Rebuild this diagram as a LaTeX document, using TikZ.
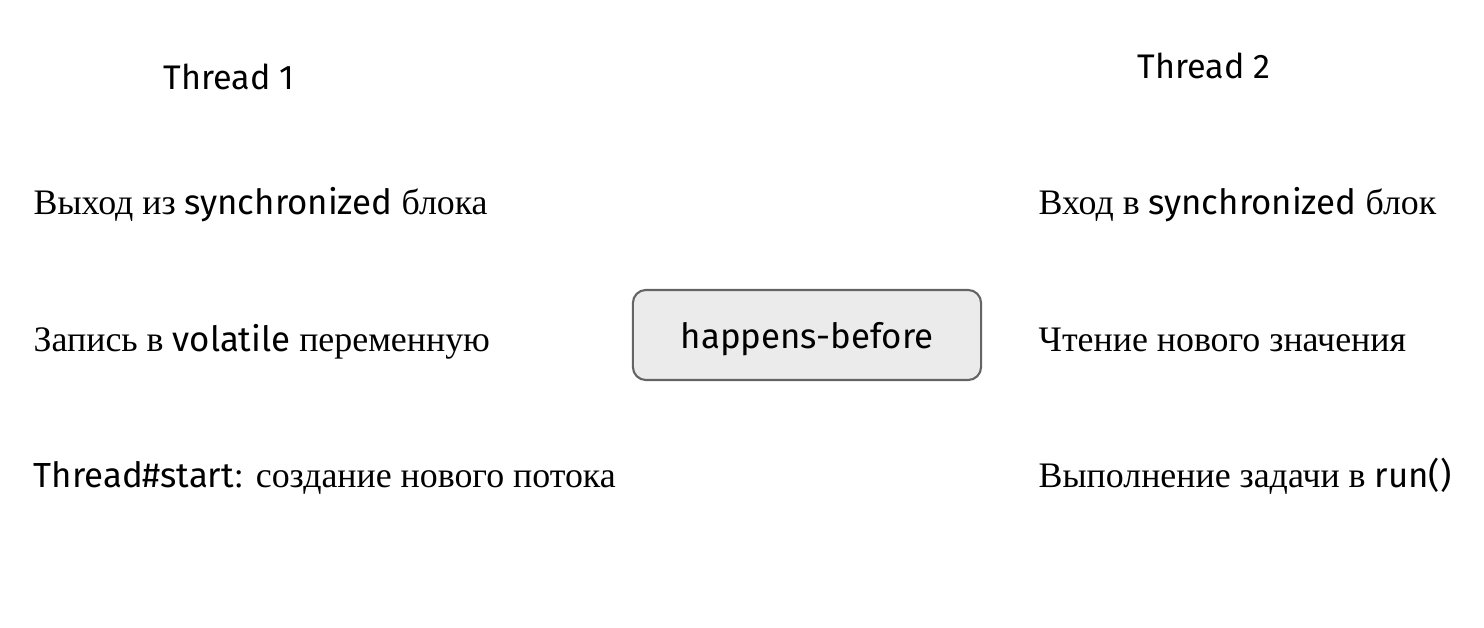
\documentclass[tikz,border=0pt]{standalone}
\usepackage{fontspec}
\setmainfont{Liberation Serif}
\newfontfamily\latfont{Fira Sans}
\newcommand{\lat}[1]{{\latfont\fontsize{9.9}{11}\selectfont #1}}
\usetikzlibrary{positioning}
\definecolor{hbfill}{RGB}{235,235,235}
\definecolor{hbdraw}{RGB}{100,100,100}

\begin{document}
\begin{tikzpicture}[
    x=0.01cm, y=-0.01cm,
    head/.style={anchor=base west, inner sep=0pt, font=\latfont\fontsize{9.7}{11}\selectfont},
    event/.style={anchor=base west, inner sep=0pt, font=\fontsize{10.2}{12}\selectfont},
    relation/.style={rectangle, rounded corners=0.13cm, draw=hbdraw, line width=0.6pt, fill=hbfill,
        minimum width=3.48cm, minimum height=0.9cm, text depth=0pt, align=center,
        font=\latfont\fontsize{9.9}{11}\selectfont}
]
\useasboundingbox (0,0) rectangle (1484,628);

% Thread headers
\node[head] (t1) at (163,90) {Thread 1};
\node[head] (t2) at (1137,79) {Thread 2};

% Thread 1 events
\node[event] (exit) at (33,215) {Выход из \lat{synchronized} блока};
\node[event] (write) at (33,352) {Запись в \lat{volatile} переменную};
\node[event] (start) at (33,488) {\lat{Thread\#start}: создание нового потока};

% Thread 2 events
\node[event] (enter) at (1038,215) {Вход в \lat{synchronized} блок};
\node[event] (read) at (1038,352) {Чтение нового значения};
\node[event] (run) at (1038,488) {Выполнение задачи в \lat{run()}};

% Relation
\node[relation] (hb) at (807,335) {happens-before};

\end{tikzpicture}
\end{document}
